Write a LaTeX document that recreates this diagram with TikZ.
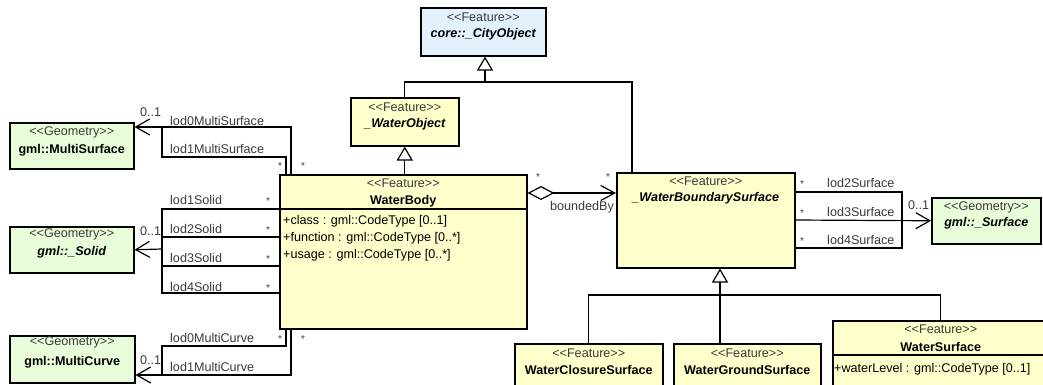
\documentclass[tikz,border=0pt]{standalone}
\usepackage{fontspec}
\setmainfont{Liberation Sans}
\usepackage{tikz}
\usetikzlibrary{arrows.meta,calc,positioning}
\definecolor{WaterFeat}{HTML}{FFFFCC}
\definecolor{WaterGeom}{HTML}{EAFDDA}
\definecolor{WaterCore}{HTML}{E3F1FF}
\definecolor{WaterInk}{HTML}{3A3A3A}
\newcommand{\umlfont}{\fontsize{12.6}{15}\selectfont}

\begin{document}
\begin{tikzpicture}[x=1pt,y=-1pt,
      font=\umlfont,
      feat/.style={draw=black,line width=1.5pt,fill=WaterFeat,anchor=north west,inner sep=0pt},
      geom/.style={feat,fill=WaterGeom},
      core/.style={feat,fill=WaterCore},
      stereo/.style={inner sep=0pt,text=WaterInk},
      cname/.style={inner sep=0pt,font=\umlfont\bfseries},
      aname/.style={inner sep=0pt,font=\umlfont\bfseries\itshape},
      attr/.style={inner sep=0pt,anchor=west},
      role/.style={inner sep=0pt,anchor=west,text=WaterInk},
      mult/.style={inner sep=0pt,text=WaterInk,font=\fontsize{10}{12}\selectfont},
      link/.style={line width=1.2pt},
      assoc/.style={link,-{Straight Barb[length=14pt,width=16pt]}},
      agg/.style={link,{Diamond[length=27pt,width=14pt,fill=white]}-{Straight Barb[length=14pt,width=15pt]}},
      gen/.style={link,-{Triangle[length=14pt,width=16pt,fill=white]}}
    ]
      \clip (0,0) rectangle (1043,384);
      \fill[white] (0,0) rectangle (1043,384);

      % classes
      \node[core,minimum width=125pt,minimum height=48pt] (cityobj) at (420,7) {};
      \node[stereo] at ([yshift=-10pt]cityobj.north) {<{}<Feature>{}>};
      \node[aname] at ([yshift=-27pt]cityobj.north) {core::\_CityObject};

      \node[feat,minimum width=108pt,minimum height=48pt] (wobj) at (350,97) {};
      \node[stereo] at ([yshift=-10pt]wobj.north) {<{}<Feature>{}>};
      \node[aname] at ([yshift=-27pt]wobj.north) {\_WaterObject};

      \node[feat,minimum width=247pt,minimum height=154pt] (body) at (279,174) {};
      \node[stereo] at ([yshift=-9pt]body.north) {<{}<Feature>{}>};
      \node[cname] at ([yshift=-27pt]body.north) {WaterBody};
      \draw[line width=1.5pt] ([yshift=-35pt]body.north west) -- ([yshift=-35pt]body.north east);
      \node[attr] at ([xshift=4pt,yshift=-47pt]body.north west) {+class : gml::CodeType [0..1]};
      \node[attr] at ([xshift=4pt,yshift=-64pt]body.north west) {+function : gml::CodeType [0..*]};
      \node[attr] at ([xshift=4pt,yshift=-81pt]body.north west) {+usage : gml::CodeType [0..*]};

      \node[feat,minimum width=178pt,minimum height=95pt] (wbs) at (616,172) {};
      \node[stereo] at ([yshift=-9pt]wbs.north) {<{}<Feature>{}>};
      \node[aname] at ([yshift=-26pt]wbs.north) {\_WaterBoundarySurface};

      \node[geom,minimum width=109pt,minimum height=46pt] (surface) at (931,197) {};
      \node[stereo] at ([yshift=-10pt]surface.north) {<{}<Geometry>{}>};
      \node[aname] at ([yshift=-26pt]surface.north) {gml::\_Surface};

      \node[geom,minimum width=124pt,minimum height=46pt] (msurf) at (9,122) {};
      \node[stereo] at ([yshift=-10pt]msurf.north) {<{}<Geometry>{}>};
      \node[cname] at ([yshift=-28pt]msurf.north) {gml::MultiSurface};

      \node[geom,minimum width=124pt,minimum height=46pt] (solid) at (9,226) {};
      \node[stereo] at ([yshift=-8pt]solid.north) {<{}<Geometry>{}>};
      \node[aname] at ([yshift=-26pt]solid.north) {gml::\_Solid};

      \node[geom,minimum width=125pt,minimum height=47pt] (mcurve) at (9,335) {};
      \node[stereo] at ([yshift=-7pt]mcurve.north) {<{}<Geometry>{}>};
      \node[cname] at ([yshift=-27pt]mcurve.north) {gml::MultiCurve};

      \node[feat,minimum width=148pt,minimum height=60pt] (closure) at (514,343) {};
      \node[stereo] at ([yshift=-10pt]closure.north) {<{}<Feature>{}>};
      \node[cname] at ([yshift=-27pt]closure.north) {WaterClosureSurface};

      \node[feat,minimum width=147pt,minimum height=60pt] (ground) at (673,343) {};
      \node[stereo] at ([yshift=-10pt]ground.north) {<{}<Feature>{}>};
      \node[cname] at ([yshift=-27pt]ground.north) {WaterGroundSurface};

      \node[feat,minimum width=216pt,minimum height=80pt] (wsurf) at (832,320) {};
      \node[stereo] at ([yshift=-9pt]wsurf.north) {<{}<Feature>{}>};
      \node[cname] at ([yshift=-27pt]wsurf.north) {WaterSurface};
      \draw[line width=1.5pt] ([yshift=-35pt]wsurf.north west) -- ([yshift=-35pt]wsurf.north east);
      \node[attr] at ([xshift=2pt,yshift=-49pt]wsurf.north west) {+waterLevel : gml::CodeType [0..1]};

      % junctions
      \coordinate (msj) at (162,127);
      \coordinate (solj) at (162,249);
      \coordinate (mcj) at (162,375);
      \coordinate (srfj) at (902,220);
      \coordinate (topj) at (485,82);
      \coordinate (botj) at (720,295);

      % generalisations
      \draw[gen] (wobj.south |- body.north) -- (wobj.south);
      \draw[link] (wobj.north) |- (topj) -| ([xshift=16pt]wbs.north west);
      \draw[gen] (topj) -- (topj |- cityobj.south);
      \draw[link] (closure.north) |- (botj) -| (wsurf.north);
      \draw[link] (botj) -- (botj |- ground.north);
      \draw[gen] (botj) -- (botj |- wbs.south);

      % geometry associations
      \draw[assoc] ([xshift=12pt]body.north west) |- (msurf.east |- msj);
      \draw[link] ([xshift=7pt]body.north west) |- ([yshift=-30pt]msj) -- (msj);
      \foreach \dy in {35,63,92,119}
        \draw[link] ([yshift=-\dy pt]body.north west) -| (solj);
      \draw[assoc] (solj) -- (solid.east);
      \draw[assoc] ([xshift=12pt]body.south west) |- (mcurve.east |- mcj);
      \draw[link] ([xshift=7pt]body.south west) |- ([yshift=29pt]mcj) -- (mcj);

      \draw[agg] ([yshift=-19pt]body.north east) -- ([yshift=-19pt]body.north east -| wbs.west);
      \draw[assoc] ([yshift=-48pt]wbs.north east) -- (surface.west);
      \foreach \dy in {20,76}
        \draw[link] ([yshift=-\dy pt]wbs.north east) -| (srfj);

      % roles and multiplicities
      \node[role] at (170,121) {lod0MultiSurface};
      \node[role] at (170,149) {lod1MultiSurface};
      \node[role] at (170,200) {lod1Solid};
      \node[role] at (170,229) {lod2Solid};
      \node[role] at (170,258) {lod3Solid};
      \node[role] at (170,287) {lod4Solid};
      \node[role] at (170,338) {lod0MultiCurve};
      \node[role] at (170,367) {lod1MultiCurve};
      \node[role] at (827,183) {lod2Surface};
      \node[role] at (827,212) {lod3Surface};
      \node[role] at (827,240) {lod4Surface};
      \node[role] at (550,207) {boundedBy};

      \node[role] at (140,112) {0..1};
      \node[role] at (140,231) {0..1};
      \node[role] at (140,360) {0..1};
      \node[role] at (908,205) {0..1};

      \foreach \mx/\my in {280/166,303/166,268/201,268/230,268/259,268/288,280/339,303/339,538/177,608/177,802/184,802/213,802/241}
        \node[mult] at (\mx,\my) {*};
    \end{tikzpicture}
\end{document}
